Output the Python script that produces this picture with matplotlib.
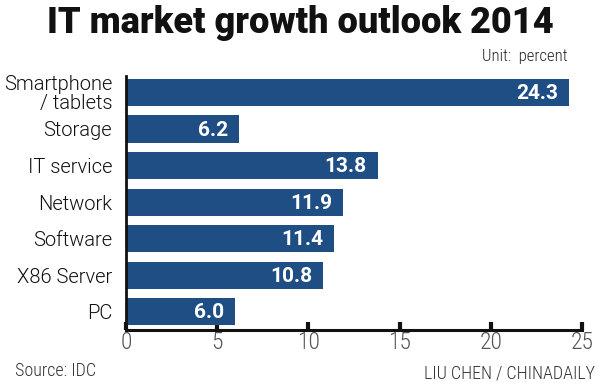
import matplotlib
matplotlib.use("Agg")
import matplotlib.pyplot as plt
from matplotlib import font_manager as fm

categories = ["Smartphone\n/ tablets", "Storage", "IT service", "Network", "Software", "X86 Server", "PC"]
values = [24.3, 6.2, 13.8, 11.9, 11.4, 10.8, 6.0]
value_labels = ["24.3", "6.2", "13.8", "11.9", "11.4", "10.8", "6.0"]
xticks = [0, 5, 10, 15, 20, 25]

names = {f.name for f in fm.fontManager.ttflist}


def pick(cands):
    for c in cands:
        if c in names:
            return c
    return "DejaVu Sans"


cond = pick(["Roboto Condensed", "Archivo Narrow", "PT Sans Narrow", "Liberation Sans Narrow", "DejaVu Sans"])
reg = pick(["Roboto", "Lato", "Open Sans", "DejaVu Sans"])

BLUE = "#1f4e85"

fig = plt.figure(figsize=(6, 3.88), dpi=100)
ax = fig.add_axes([0.21, 1 - 330 / 388, 0.76, 254 / 388])

y = list(range(len(categories)))
ax.barh(y, values, height=0.74, color=BLUE, zorder=2)
ax.set_xlim(0, 25)
ax.set_ylim(6.5, -0.45)

for yi, v, lab in zip(y, values, value_labels):
    ax.text(v - 0.6, yi + 0.03, lab, color="white", fontsize=15, fontweight="bold",
            ha="right", va="center", family=reg)

ax.set_yticks(y)
ax.set_yticklabels(categories, fontsize=14.5, family=reg, fontweight=300, color="#111111",
                   linespacing=0.95)
ax.tick_params(axis="y", length=0, pad=10)
ax.set_xticks(xticks)
ax.set_xticklabels([str(t) for t in xticks], fontsize=17, color="#555555",
                   family=cond, fontweight=300)
ax.tick_params(axis="x", direction="in", length=6, width=3, color="#111111", pad=1)

for s in ["top", "right"]:
    ax.spines[s].set_visible(False)
ax.spines["bottom"].set_linewidth(2.2)
ax.spines["bottom"].set_color("#111111")
ax.spines["left"].set_linewidth(2.0)
ax.spines["left"].set_color("#111111")

fig.text(0.5, 1 - 33 / 388, "IT market growth outlook 2014", ha="center", va="baseline",
         fontsize=26, fontweight=900, family=reg, color="#111111")
fig.text(0.945, 1 - 56 / 388, "Unit:  percent", ha="right", va="center", fontsize=12,
         family=cond, fontweight=300, color="#222222")
fig.text(0.025, 1 - 371 / 388, "Source: IDC", ha="left", va="center", fontsize=13,
         family=cond, fontweight=300, color="#333333")
fig.text(0.992, 1 - 373 / 388, "LIU CHEN / CHINADAILY", ha="right", va="center", fontsize=13,
         family=cond, fontweight=300, color="#333333")

fig.savefig("out.png", dpi=100)
